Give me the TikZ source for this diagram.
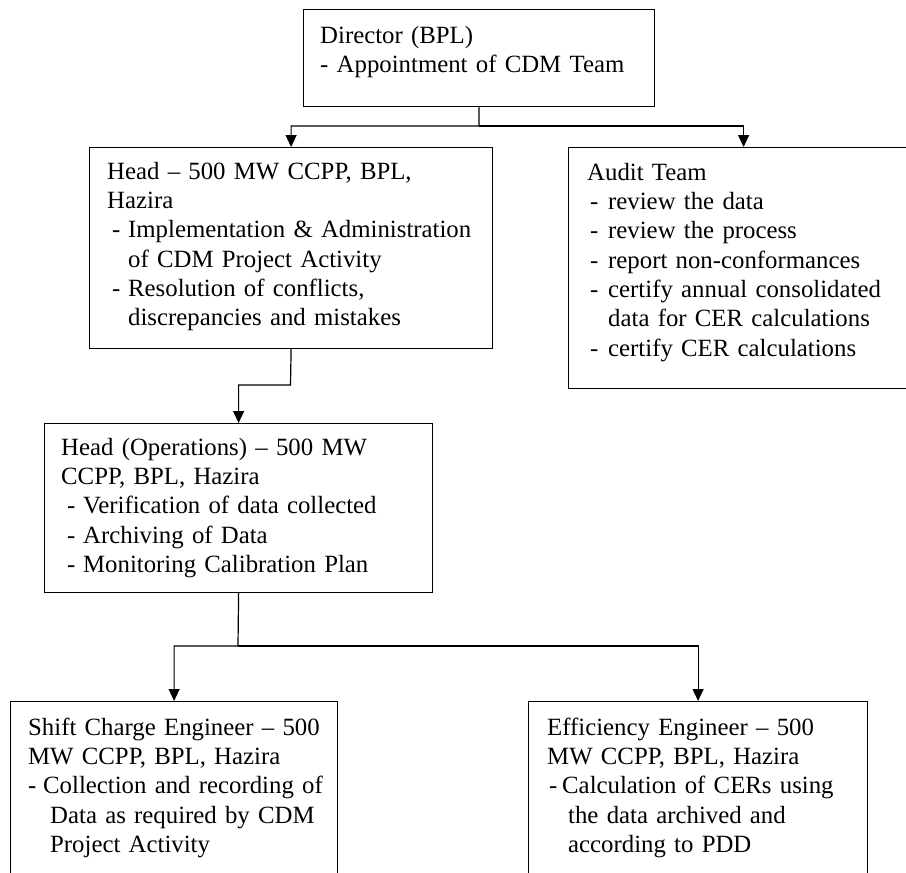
\documentclass[tikz,border=0pt]{standalone}
\usepackage{fontspec}
\setmainfont{Liberation Serif}
\usetikzlibrary{arrows.meta}
\newcommand{\mybul}[2]{\makebox[#2][l]{\hspace*{#1}-}}
\begin{document}
\begin{tikzpicture}[x=1pt,y=-1pt,
  box/.style={draw, line width=1.2pt, inner sep=0pt, anchor=north west},
  txt/.style={anchor=north west, inner sep=0pt, align=left, text width=400pt,
              font=\fontsize{24.8}{29.3}\selectfont},
  conn/.style={line width=1.2pt, line join=miter, -{Triangle[width=11pt,length=12pt]}},
  plain/.style={line width=1.2pt}]
\useasboundingbox (0,0) rectangle (906,873);
\clip (0,0) rectangle (906,873);
\fill[white] (0,0) rectangle (906,873);

% boxes
\node[box, minimum width=351pt, minimum height=97pt]  (dir)   at (303,9)   {};
\node[box, minimum width=403pt, minimum height=201pt] (head)  at (89,147)  {};
\node[box, minimum width=350pt, minimum height=241pt] (audit) at (568,147) {};
\node[box, minimum width=388pt, minimum height=169pt] (ops)   at (44,423)  {};
\node[box, minimum width=327pt, minimum height=200pt] (sce)   at (10,701)  {};
\node[box, minimum width=339pt, minimum height=200pt] (eff)   at (528,701) {};

% texts
\node[txt] (tdir) at (320,22.5) {\strut Director (BPL)\\
- Appointment of CDM Team};

\node[txt] (thead) at (107,158.5) {\strut Head -- 500 MW CCPP, BPL,\\
Hazira\\
\mybul{5pt}{21pt}Implementation \& Administration\\
\hspace*{21pt}of CDM Project Activity\\
\mybul{5pt}{21pt}Resolution of conflicts,\\
\hspace*{21pt}discrepancies and mistakes};

\node[txt] (taudit) at (587,159.5) {\strut Audit Team\\
\mybul{3pt}{21pt}review the data\\
\mybul{3pt}{21pt}review the process\\
\mybul{3pt}{21pt}report non-conformances\\
\mybul{3pt}{21pt}certify annual consolidated\\
\hspace*{21pt}data for CER calculations\\
\mybul{3pt}{21pt}certify CER calculations};

\node[txt] (tops) at (61,434.5) {\strut Head (Operations) -- 500 MW\\
CCPP, BPL, Hazira\\
\mybul{6pt}{22pt}Verification of data collected\\
\mybul{6pt}{22pt}Archiving of Data\\
\mybul{6pt}{22pt}Monitoring Calibration Plan};

\node[txt] (tsce) at (28,714.5) {\strut Shift Charge Engineer -- 500\\
MW CCPP, BPL, Hazira\\
\mybul{0pt}{15pt}Collection and recording of\\
\hspace*{22pt}Data as required by CDM\\
\hspace*{22pt}Project Activity};

\node[txt] (teff) at (547,714.5) {\strut Efficiency Engineer -- 500\\
MW CCPP, BPL, Hazira\\
\mybul{2pt}{15pt}Calculation of CERs using\\
\hspace*{21pt}the data archived and\\
\hspace*{21pt}according to PDD};

% junctions
\coordinate (j1) at (479,126);
\coordinate (j2) at (290.5,385);
\coordinate (j3) at (238,646);

% connectors
\draw[conn] (dir.south) -- (j1) -| (head.north);
\draw[conn] (j1) -| (audit.north);
\draw[conn] (head.south) -- (j2) -| (ops.north);
\draw[conn] (ops.south) -- (j3) -| (sce.north);
\draw[conn] (j3) -| (eff.north);
\end{tikzpicture}
\end{document}
